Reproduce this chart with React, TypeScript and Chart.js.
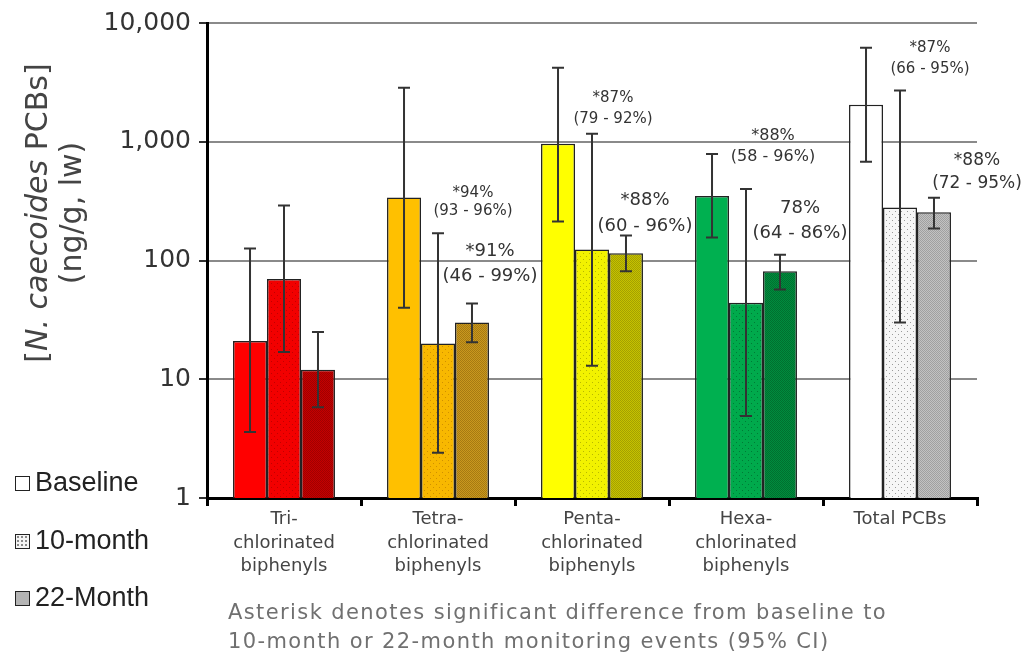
import React, { useEffect, useRef } from "react";
import { Chart, registerables } from "chart.js";

Chart.register(...registerables);

const categories = [
  ["Tri-", "chlorinated", "biphenyls"],
  ["Tetra-", "chlorinated", "biphenyls"],
  ["Penta-", "chlorinated", "biphenyls"],
  ["Hexa-", "chlorinated", "biphenyls"],
  ["Total PCBs"],
];
const seriesNames = ["Baseline", "10-month", "22-Month"];

const baseline = [21, 340, 960, 350, 2050];
const tenMonth = [70, 20, 124, 44, 280];
const twentyTwoMonth = [12, 30, 115, 81, 255];

const baselineLow = [3.6, 40, 213, 156, 680];
const baselineHigh = [126, 2850, 4200, 790, 6200];
const tenMonthLow = [17, 2.4, 13, 4.9, 30];
const tenMonthHigh = [290, 170, 1170, 400, 2700];
const twentyTwoLow = [5.8, 20.5, 81, 57, 186];
const twentyTwoHigh = [25, 43.5, 162, 112, 338];

const yTickValues = [1, 10, 100, 1000, 10000];
const yTickLabels = ["1", "10", "100", "1,000", "10,000"];

// annotation texts (category, series, lines)
const annotationCats = [1, 1, 2, 2, 3, 3, 4, 4];
const annotationSeries = [1, 2, 1, 2, 1, 2, 1, 2];
const annotationTexts = [
  ["*94%", "(93 - 96%)"],
  ["*91%", "(46 - 99%)"],
  ["*87%", "(79 - 92%)"],
  ["*88%", "(60 - 96%)"],
  ["*88%", "(58 - 96%)"],
  ["78%", "(64 - 86%)"],
  ["*87%", "(66 - 95%)"],
  ["*88%", "(72 - 95%)"],
];
// layout of annotations relative to top of error bar (px)
const annotationLayout = [
  { dx: 35, dy: -40, lh: 18, size: 15 },
  { dx: 18, dy: -52, lh: 25, size: 18 },
  { dx: 21, dy: -36, lh: 21, size: 15 },
  { dx: 19, dy: -35, lh: 26, size: 18 },
  { dx: 27, dy: -53, lh: 21, size: 16 },
  { dx: 20, dy: -46, lh: 25, size: 18 },
  { dx: 30, dy: -42, lh: 21, size: 15 },
  { dx: 43, dy: -37, lh: 23, size: 17 },
];

const baseColors = ["#FF0000", "#FFC000", "#FFFF00", "#00B050", "#FFFFFF"];
const tenColors = ["#F20000", "#F8B800", "#F2F200", "#00AA4C", "#F6F6F6"];
const tenDots = ["#C00000", "#D09000", "#B8B800", "#007A36", "#9A9A9A"];
const twentyTwoColors = ["#C40000", "#C9981E", "#C6C200", "#008C3E", "#C2C2C2"];
const twentyTwoDither = ["#A00000", "#A67A12", "#A4A000", "#00702F", "#A0A0A0"];

function dotPattern(bg: string, dot: string) {
  const c = document.createElement("canvas");
  c.width = 6;
  c.height = 6;
  const g = c.getContext("2d")!;
  g.fillStyle = bg;
  g.fillRect(0, 0, 6, 6);
  g.fillStyle = dot;
  g.fillRect(1, 1, 1, 1);
  g.fillRect(4, 4, 1, 1);
  return g.createPattern(c, "repeat")!;
}
function ditherPattern(bg: string, dot: string) {
  const c = document.createElement("canvas");
  c.width = 2;
  c.height = 2;
  const g = c.getContext("2d")!;
  g.fillStyle = bg;
  g.fillRect(0, 0, 2, 2);
  g.fillStyle = dot;
  g.fillRect(0, 0, 1, 1);
  g.fillRect(1, 1, 1, 1);
  return g.createPattern(c, "repeat")!;
}

const lows = [baselineLow, tenMonthLow, twentyTwoLow];
const highs = [baselineHigh, tenMonthHigh, twentyTwoHigh];

const errorBarPlugin = {
  id: "errorBars",
  afterDatasetsDraw(chart: any) {
    const ctx = chart.ctx;
    const y = chart.scales.y;
    ctx.save();
    ctx.strokeStyle = "#333";
    ctx.lineWidth = 2;
    chart.data.datasets.forEach((_: any, di: number) => {
      const meta = chart.getDatasetMeta(di);
      meta.data.forEach((bar: any, i: number) => {
        const x = bar.x;
        const yh = y.getPixelForValue(highs[di][i]);
        const yl = y.getPixelForValue(lows[di][i]);
        ctx.beginPath();
        ctx.moveTo(x, yh);
        ctx.lineTo(x, yl);
        ctx.moveTo(x - 6, yh);
        ctx.lineTo(x + 6, yh);
        ctx.moveTo(x - 6, yl);
        ctx.lineTo(x + 6, yl);
        ctx.stroke();
      });
    });
    // annotations
    ctx.fillStyle = "#333";
    ctx.textAlign = "center";
    ctx.textBaseline = "middle";
    annotationTexts.forEach((lines, k) => {
      const di = annotationSeries[k];
      const ci = annotationCats[k];
      const bar = chart.getDatasetMeta(di).data[ci];
      const L = annotationLayout[k];
      const yh = y.getPixelForValue(highs[di][ci]);
      ctx.font = `${L.size}px "DejaVu Sans"`;
      lines.forEach((t, j) => {
        ctx.fillText(t, bar.x + L.dx, yh + L.dy + j * L.lh);
      });
    });
    ctx.restore();
  },
};

export default function App() {
  const ref = useRef<HTMLCanvasElement>(null);
  useEffect(() => {
    const chart = new Chart(ref.current!, {
      type: "bar",
      data: {
        labels: categories,
        datasets: [
          {
            label: seriesNames[0],
            data: baseline,
            backgroundColor: baseColors,
            borderColor: "#222",
            borderWidth: 1.5,
          },
          {
            label: seriesNames[1],
            data: tenMonth,
            backgroundColor: tenColors.map((c, i) => dotPattern(c, tenDots[i])),
            borderColor: "#222",
            borderWidth: 1.5,
          },
          {
            label: seriesNames[2],
            data: twentyTwoMonth,
            backgroundColor: twentyTwoColors.map((c, i) => ditherPattern(c, twentyTwoDither[i])),
            borderColor: "#222",
            borderWidth: 1.5,
          },
        ],
      },
      options: {
        responsive: false,
        animation: false,
        layout: { padding: { top: 23, right: 58, left: 0, bottom: 0 } },
        datasets: { bar: { categoryPercentage: 0.662, barPercentage: 1 } },
        plugins: { legend: { display: false }, tooltip: { enabled: false } },
        scales: {
          x: {
            offset: true,
            grid: {
              offset: true,
              drawOnChartArea: false,
              drawTicks: true,
              tickLength: 8,
              color: "#000",
              lineWidth: 3,
            },
            border: { color: "#000", width: 3 },
            ticks: {
              font: { family: "DejaVu Sans", size: 18, lineHeight: 1.3 },
              color: "#444",
              maxRotation: 0,
              autoSkip: false,
              padding: 2,
            },
            afterFit: (s: any) => {
              s.height = 160;
            },
          },
          y: {
            type: "logarithmic",
            min: 1,
            max: 10000,
            afterBuildTicks: (s: any) => {
              s.ticks = yTickValues.map((v) => ({ value: v }));
            },
            ticks: {
              callback: (v: any) => {
                const i = yTickValues.indexOf(Number(v));
                return i >= 0 ? yTickLabels[i] : "";
              },
              font: { family: "DejaVu Sans", size: 25 },
              color: "#333",
              padding: 8,
            },
            grid: { color: "#8a8a8a", lineWidth: 2, tickLength: 8, tickColor: "#333" },
            border: { color: "#000", width: 3 },
            afterFit: (s: any) => {
              s.width = 207;
            },
          },
        },
      },
      plugins: [errorBarPlugin],
    } as any);
    return () => chart.destroy();
  }, []);

  const legendBox = (bg: string) => ({
    display: "inline-block",
    width: 13,
    height: 13,
    border: "1.5px solid #222",
    background: bg,
    marginRight: 5,
    verticalAlign: "middle",
  });
  const legendRow = (top: number) => ({
    position: "absolute" as const,
    left: 15,
    top: top - 17,
    height: 34,
    lineHeight: "34px",
    fontFamily: '"Liberation Sans", Arial, sans-serif',
    fontSize: 27,
    color: "#222",
    whiteSpace: "nowrap" as const,
  });

  return (
    <div
      style={{
        position: "absolute",
        left: 0,
        top: 0,
        width: 1035,
        height: 658,
        background: "#fff",
        overflow: "hidden",
      }}
    >
      <canvas ref={ref} width={1035} height={658} style={{ position: "absolute", left: 0, top: 0, width: 1035, height: 658 }} />
      <div
        style={{
          position: "absolute",
          left: 54 - 180,
          top: 213 - 34,
          width: 360,
          height: 68,
          transform: "rotate(-90deg)",
          textAlign: "center",
          fontFamily: '"DejaVu Sans", sans-serif',
          fontSize: 30,
          lineHeight: "34px",
          color: "#444",
          whiteSpace: "nowrap",
        }}
      >
        <div>
          [<i>N. caecoides</i> PCBs]
        </div>
        <div>(ng/g, lw)</div>
      </div>
      <div style={legendRow(482)}>
        <span style={legendBox("#fff")} />
        {seriesNames[0]}
      </div>
      <div style={legendRow(540)}>
        <span style={legendBox("radial-gradient(circle, #888 0.8px, #f4f4f4 1px) 0 0 / 4px 4px")} />
        {seriesNames[1]}
      </div>
      <div style={legendRow(597)}>
        <span style={legendBox("#b4b4b4")} />
        {seriesNames[2]}
      </div>
      <div
        style={{
          position: "absolute",
          left: 228,
          top: 598,
          fontFamily: '"DejaVu Sans", sans-serif',
          fontSize: 21,
          letterSpacing: "1.4px",
          lineHeight: "29px",
          color: "#707070",
          whiteSpace: "nowrap",
        }}
      >
        <div>Asterisk denotes significant difference from baseline to</div>
        <div>10-month or 22-month monitoring events (95% CI)</div>
      </div>
    </div>
  );
}
